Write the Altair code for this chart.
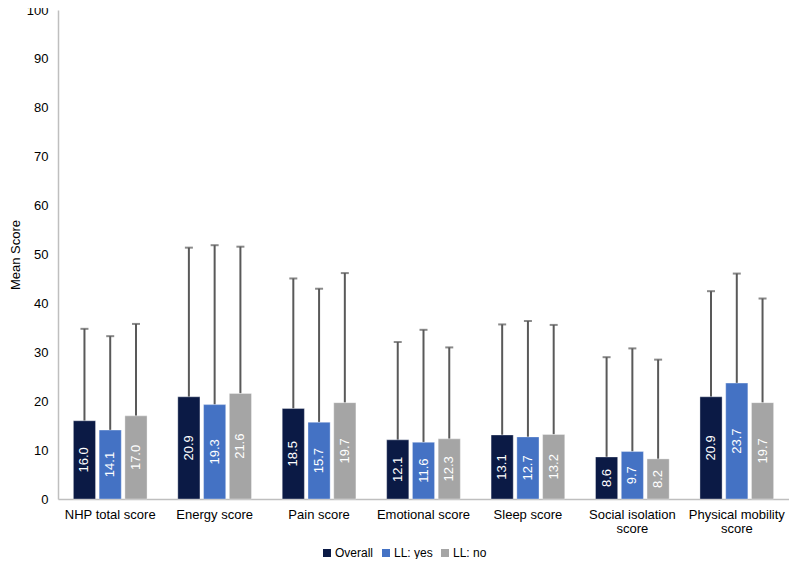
import altair as alt
import pandas as pd

categories = ["NHP total score", "Energy score", "Pain score", "Emotional score",
              "Sleep score", "Social isolation score", "Physical mobility score"]
groups = ["Overall", "LL: yes", "LL: no"]
colors = ["#0B1A45", "#4472C4", "#A5A5A5"]

overall_mean = [16.0, 20.9, 18.5, 12.1, 13.1, 8.6, 20.9]
yes_mean = [14.1, 19.3, 15.7, 11.6, 12.7, 9.7, 23.7]
no_mean = [17.0, 21.6, 19.7, 12.3, 13.2, 8.2, 19.7]

overall_upper = [34.8, 51.4, 45.1, 32.1, 35.7, 29.0, 42.5]
yes_upper = [33.3, 51.9, 43.0, 34.6, 36.4, 30.8, 46.1]
no_upper = [35.8, 51.6, 46.2, 31.0, 35.6, 28.5, 41.0]

rows = []
for g, means, ups in zip(groups, [overall_mean, yes_mean, no_mean],
                         [overall_upper, yes_upper, no_upper]):
    for c, m, u in zip(categories, means, ups):
        rows.append({"category": c, "group": g, "mean": m, "upper": u,
                     "mid": m / 2, "label": f"{m:.1f}"})
df = pd.DataFrame(rows)

label_expr = ("datum.label == 'Social isolation score' ? ['Social isolation', 'score'] : "
              "datum.label == 'Physical mobility score' ? ['Physical mobility', 'score'] : datum.label")

x_enc = alt.X("category:N", sort=categories,
              scale=alt.Scale(paddingInner=0.26, paddingOuter=0.13),
              axis=alt.Axis(title=None, labelAngle=0, labelFontSize=13, labelColor="#000000",
                            labelPadding=9, ticks=False, domainColor="#BFBFBF", domainWidth=1.5,
                            labelExpr=label_expr, labelLineHeight=14, labelLimit=200))
xo_enc = alt.XOffset("group:N", sort=groups, scale=alt.Scale(paddingInner=0.14, paddingOuter=0.07))

y_scale = alt.Scale(domain=[0, 100], nice=False)

base = alt.Chart(df).encode(x=x_enc, xOffset=xo_enc)

rules = base.mark_rule(color="#595959", strokeWidth=2).encode(
    y=alt.Y("mean:Q", scale=y_scale,
            axis=alt.Axis(title="Mean Score", values=list(range(0, 101, 10)), grid=False,
                          ticks=False, labelFontSize=13, labelColor="#000000", labelPadding=10,
                          domainColor="#BFBFBF", domainWidth=1.5, titleFontSize=13,
                          titleFontWeight="normal", titleColor="#000000", titlePadding=4)),
    y2="upper:Q")

caps = base.mark_tick(color="#595959", thickness=2, size=8).encode(
    y=alt.Y("upper:Q", scale=y_scale))

bars = base.mark_bar(stroke="#FFFFFF", strokeOpacity=0.35, strokeWidth=1).encode(
    y=alt.Y("mean:Q", scale=y_scale),
    color=alt.Color("group:N", sort=groups, scale=alt.Scale(domain=groups, range=colors),
                    legend=alt.Legend(title=None, orient="none", direction="horizontal",
                                      legendX=263, legendY=537, symbolType="square",
                                      symbolSize=64, labelFontSize=12, labelColor="#000000",
                                      columnPadding=6, labelOffset=2, symbolStrokeWidth=0)))

texts = base.mark_text(angle=270, color="#FFFFFF", fontSize=13, align="center",
                       baseline="middle").encode(
    y=alt.Y("mid:Q", scale=y_scale), text="label:N")

chart = alt.layer(rules, caps, bars, texts).properties(
    width=731, height=489,
    padding={"left": 50, "top": 2, "right": 0, "bottom": 60},
    autosize="none",
).configure(font="Liberation Sans").configure_view(stroke=None)

chart.save("out.html", embed_options={"renderer": "svg", "actions": False})
